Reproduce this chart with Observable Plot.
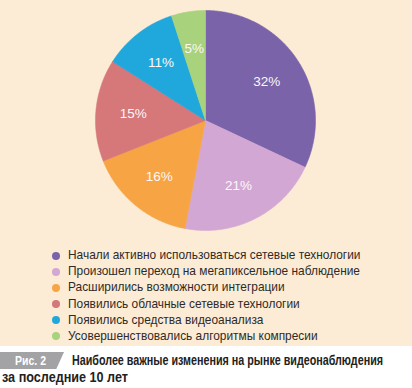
<!DOCTYPE html>
<html><head><meta charset="utf-8">
<script src="https://cdn.jsdelivr.net/npm/d3@7"></script>
<script src="https://cdn.jsdelivr.net/npm/@observablehq/plot@0.6"></script>
<style>
html,body{margin:0;padding:0;background:#fff}
body{width:412px;height:388px;overflow:hidden;position:relative;font-family:"Liberation Sans",Arial,sans-serif}
#panel{position:absolute;left:0;top:0;width:412px;height:346px;background:#fcecd6}
#chart svg{display:block}
#legend{position:absolute;left:52px;top:247px}
.row{height:16.2px;line-height:16.2px;font-size:11.9px;color:#2e2a28;white-space:nowrap}
.dot{display:inline-block;width:8px;height:8px;border-radius:50%;margin-right:8px;vertical-align:-0.5px}
#fig{position:absolute;left:0;top:352px;width:64px;height:17px;background:#a3a3a6;clip-path:polygon(0 0,100% 0,88% 100%,0 100%)}
.cap{position:absolute;font-family:"Liberation Sans",Arial,sans-serif;font-weight:bold;font-size:13.8px;color:#222;white-space:nowrap;transform-origin:0 50%;line-height:18px}
</style></head><body>
<div id="panel"><div id="chart"></div><div id="legend"></div></div>
<div id="fig"></div>
<div class="cap" data-w="31" style="left:15px;top:351.5px;color:#fff;font-size:13.5px">Рис. 2</div>
<div class="cap" data-w="311" style="left:72px;top:352px">Наиболее важные изменения на рынке видеонаблюдения</div>
<div class="cap" data-w="126" style="left:2px;top:369px">за последние 10 лет</div>
<script>
const categories = [
  "Начали активно использоваться сетевые технологии",
  "Произошел переход на мегапиксельное наблюдение",
  "Расширились возможности интеграции",
  "Появились облачные сетевые технологии",
  "Появились средства видеоанализа",
  "Усовершенствовались алгоритмы компресии"
];
const shares = [32, 21, 16, 15, 11, 5];
const colors = ["#7a63a8", "#d3a7d3", "#f7a445", "#d6777a", "#20a8dc", "#a8d27b"];

const data = categories.map((c, i) => ({category: c, share: shares[i], label: shares[i] + "%"}));
const arcs = d3.pie().sort(null).value(d => d.share)(data);

const pts = [];
arcs.forEach(a => {
  const n = Math.max(2, Math.ceil((a.endAngle - a.startAngle) / 0.01));
  pts.push({category: a.data.category, x: 0, y: 0});
  for (let k = 0; k <= n; k++) {
    const t = a.startAngle + (a.endAngle - a.startAngle) * k / n;
    pts.push({category: a.data.category, x: Math.sin(t), y: Math.cos(t)});
  }
  pts.push({category: a.data.category, x: 0, y: 0});
});
const labelPts = arcs.map(a => {
  const m = (a.startAngle + a.endAngle) / 2;
  return {label: a.data.label, x: 0.66 * Math.sin(m), y: 0.66 * Math.cos(m)};
});

const R = 110, cx = 205, cy = 120, W = 412, H = 245;
const chart = Plot.plot({
  width: W, height: H,
  margin: 0,
  style: {background: "transparent"},
  x: {domain: [-cx / R, (W - cx) / R], axis: null},
  y: {domain: [-(H - cy) / R, cy / R], axis: null},
  color: {domain: categories, range: colors},
  marks: [
    Plot.line(pts, {x: "x", y: "y", z: "category", fill: "category", stroke: "category", strokeWidth: 0.6}),
    Plot.text(labelPts, {x: "x", y: "y", text: "label", fill: "#fbf8f8", fontSize: 13.5, fontFamily: "Liberation Sans, Arial, sans-serif"})
  ]
});
document.getElementById("chart").appendChild(chart);

const legend = document.getElementById("legend");
categories.forEach((c, i) => {
  const row = document.createElement("div");
  row.className = "row";
  const dot = document.createElement("span");
  dot.className = "dot";
  dot.style.background = colors[i];
  row.appendChild(dot);
  row.appendChild(document.createTextNode(c));
  legend.appendChild(row);
});

document.querySelectorAll(".cap").forEach(el => {
  const w = el.getBoundingClientRect().width;
  const target = +el.dataset.w;
  el.style.transform = `scaleX(${target / w})`;
});
</script>
</body></html>
